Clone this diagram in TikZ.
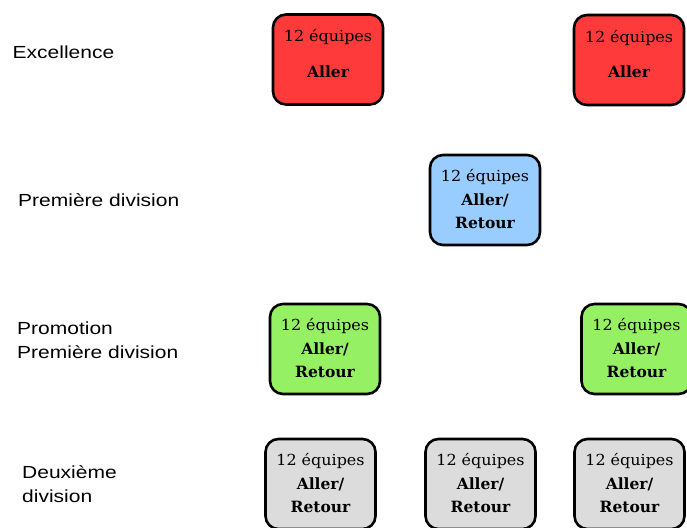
\documentclass[tikz,border=0pt]{standalone}
\usepackage{fontspec}
\newfontfamily\boxfont{DejaVu Serif}
\newfontfamily\boxfontw[FakeStretch=1.05]{DejaVu Serif}
\newfontfamily\labfont[FakeStretch=1.2]{Liberation Sans}
\definecolor{cred}{RGB}{255,58,58}
\definecolor{cblue}{RGB}{153,204,255}
\definecolor{cgreen}{RGB}{150,240,100}
\definecolor{cgray}{RGB}{220,220,220}
\tikzset{
  teambox/.style={draw=black, line width=2.6pt, rounded corners=13pt,
    minimum width=110pt, minimum height=90pt, inner sep=0pt},
  tline/.style={anchor=base, inner sep=0pt, font=\boxfontw\fontsize{15.2}{17}\selectfont},
  bline/.style={anchor=base, inner sep=0pt, font=\boxfont\bfseries\fontsize{15.5}{17}\selectfont},
  lab/.style={anchor=base west, inner sep=0pt, font=\labfont\fontsize{17.5}{20}\selectfont},
}
\newcommand\allerbox[3]{%
  \node[teambox, fill=#3] (#1) at (#2) {};
  \node[tline] (#1-t) at ([yshift=18pt]#1.center) {12 équipes};
  \node[bline] (#1-b) at ([yshift=-17.5pt]#1.center) {Aller};
}
\newcommand\arbox[3]{%
  \node[teambox, fill=#3] (#1) at (#2) {};
  \node[tline] (#1-t) at ([yshift=19pt]#1.center) {12 équipes};
  \node[bline] (#1-b) at ([yshift=-5.5pt]#1.center) {Aller/};
  \node[bline] (#1-c) at ([yshift=-28pt]#1.center) {Retour};
}
\begin{document}
\begin{tikzpicture}[x=1pt,y=-1pt]
\useasboundingbox (0,0) rectangle (687,527);
\allerbox{r1}{328,59.5}{cred}
\allerbox{r2}{629,60}{cred}
\arbox{b1}{485,200}{cblue}
\arbox{g1}{325,349}{cgreen}
\arbox{g2}{636.5,349}{cgreen}
\arbox{y1}{320.5,484}{cgray}
\arbox{y2}{480.5,484}{cgray}
\arbox{y3}{629.5,484}{cgray}
\node[lab] (l1) at (12.5,58.5) {Excellence};
\node[lab] (l2) at (18,206.5) {Première division};
\node[lab] (l3) at (17,334) {Promotion};
\node[lab] (l3b) at (17,358) {Première division};
\node[lab] (l4) at (22,478.5) {Deuxième};
\node[lab] (l4b) at (22,502.5) {division};
\end{tikzpicture}
\end{document}
